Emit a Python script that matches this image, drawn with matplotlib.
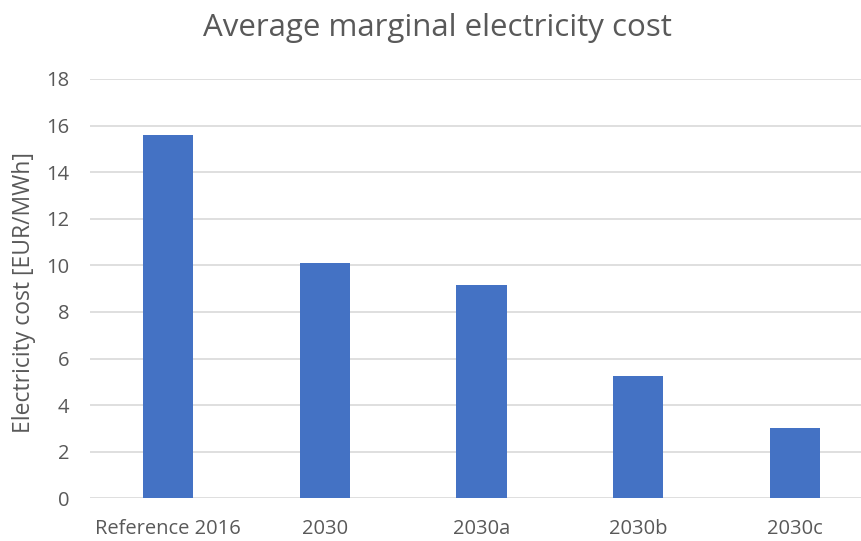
import matplotlib
matplotlib.use("Agg")
import matplotlib.pyplot as plt

categories = ["Reference 2016", "2030", "2030a", "2030b", "2030c"]
values = [15.6, 10.1, 9.15, 5.25, 3.03]
yticks = [0, 2, 4, 6, 8, 10, 12, 14, 16, 18]

plt.rcParams['font.family'] = ['Open Sans', 'DejaVu Sans']
text_color = "#595959"

fig = plt.figure(figsize=(8.62, 5.41), dpi=100)
ax = fig.add_axes([90/862, 42.7/541, 772/862, 419.3/541])

x = list(range(len(categories)))
ax.bar(x, values, width=0.32, color="#4472C4", zorder=3)

ax.set_xlim(-0.5, 4.43)
ax.set_ylim(0, 18)
ax.set_yticks(yticks)
ax.set_xticks(x)
ax.set_xticklabels(categories)
ax.yaxis.grid(True, color="#d9d9d9", linewidth=1.2, zorder=0)
ax.set_axisbelow(True)
for s in ax.spines.values():
    s.set_visible(False)
ax.tick_params(axis='both', length=0, colors=text_color, labelsize=14.5)
ax.tick_params(axis='x', pad=15)
ax.tick_params(axis='y', pad=15)
ax.set_ylabel("Electricity cost [EUR/MWh]", color=text_color, fontsize=16.5)
ax.yaxis.set_label_coords(-0.07, 0.49)

fig.text(437/862, 1 - 28/541, "Average marginal electricity cost", ha='center', va='center',
         fontsize=22.5, color=text_color)

fig.savefig("out.png", dpi=100)
